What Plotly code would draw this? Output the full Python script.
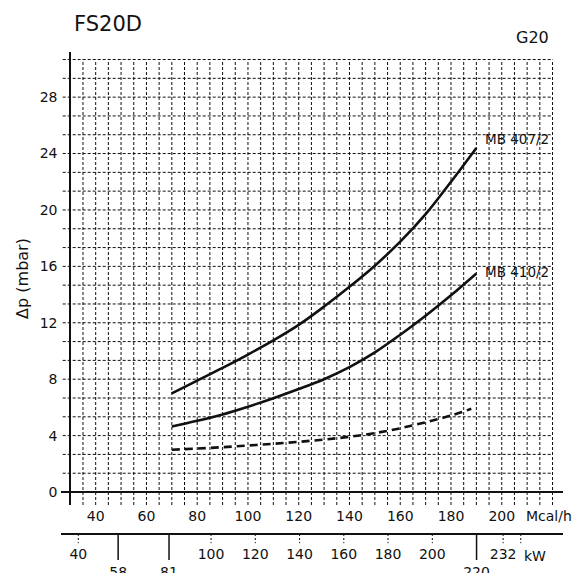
import plotly.graph_objects as go

# ---- data ----
mcal = [70, 80, 90, 100, 110, 120, 130, 140, 150, 160, 170, 180, 190]
mb407 = [7.0, 7.9, 8.8, 9.75, 10.75, 11.85, 13.15, 14.55, 16.05, 17.75, 19.7, 22.0, 24.4]
mb410 = [4.65, 5.05, 5.5, 6.05, 6.65, 7.3, 8.0, 8.85, 9.9, 11.15, 12.5, 13.95, 15.5]
dash_x = [70, 80, 90, 100, 110, 120, 130, 140, 150, 160, 170, 180, 188]
dash_y = [3.0, 3.08, 3.18, 3.3, 3.42, 3.56, 3.72, 3.92, 4.18, 4.52, 4.95, 5.42, 5.9]

y_ticks = [0, 4, 8, 12, 16, 20, 24, 28]
mcal_ticks = [40, 60, 80, 100, 120, 140, 160, 180, 200]
kw_upper = [40, 100, 120, 140, 160, 180, 200, 232]
kw_lower = [58, 81, 220]
kw_minor = [40, 100, 120, 140, 160, 180, 200, 232, 240]

series_labels = ["MB 407/2", "MB 410/2"]

FONT = "DejaVu Sans"
BLACK = "#111111"

fig = go.Figure()

fig.add_trace(go.Scatter(x=mcal, y=mb407, mode="lines", line=dict(color=BLACK, width=2.6, shape="spline"),
                         showlegend=False, hoverinfo="skip"))
fig.add_trace(go.Scatter(x=mcal, y=mb410, mode="lines", line=dict(color=BLACK, width=2.6, shape="spline"),
                         showlegend=False, hoverinfo="skip"))
fig.add_trace(go.Scatter(x=dash_x, y=dash_y, mode="lines",
                         line=dict(color=BLACK, width=2.6, shape="spline", dash="8px,5px"),
                         showlegend=False, hoverinfo="skip"))
# invisible trace to activate the kW axis
fig.add_trace(go.Scatter(x=[40, 240], y=[None, None], xaxis="x2", yaxis="y", mode="lines",
                         showlegend=False, hoverinfo="skip"))

shapes = []
grid = dict(color=BLACK, width=1, dash="3px,2px")
# horizontal grid every 4/3 mbar
for k in range(1, 24):
    yv = k * 4 / 3
    shapes.append(dict(type="line", xref="x", yref="y", x0=27.0, x1=220, y0=yv, y1=yv, line=grid, layer="below"))
# vertical grid every 5 Mcal/h
for xv in range(35, 221, 5):
    shapes.append(dict(type="line", xref="x", yref="y", x0=xv, x1=xv, y0=-0.92, y1=30.667, line=grid, layer="below"))
# kW ticks
for kv in kw_minor:
    shapes.append(dict(type="line", xref="x2", yref="paper", x0=kv, x1=kv, y0=0, y1=-0.019,
                       line=dict(color=BLACK, width=1, dash="2px,2px")))
for kv in kw_lower:
    shapes.append(dict(type="line", xref="x2", yref="paper", x0=kv, x1=kv, y0=0, y1=-0.054,
                       line=dict(color=BLACK, width=1.5)))

annotations = [
    dict(text=series_labels[0], x=192.6, y=25.05, xref="x", yref="y", xanchor="left", yanchor="middle",
         showarrow=False, font=dict(family=FONT, size=13.5, color=BLACK)),
    dict(text=series_labels[1], x=192.6, y=15.57, xref="x", yref="y", xanchor="left", yanchor="middle",
         showarrow=False, font=dict(family=FONT, size=13.5, color=BLACK)),
    dict(text="G20", x=0.940, y=1.031, xref="paper", yref="paper", xanchor="center", yanchor="middle",
         showarrow=False, font=dict(family=FONT, size=16, color=BLACK)),
    dict(text="Mcal/h", x=0.972, y=0.0373, xref="paper", yref="paper", xanchor="center", yanchor="middle",
         showarrow=False, font=dict(family=FONT, size=14, color=BLACK)),
    dict(text="kW", x=(535 - 61) / 502, y=-0.0456, xref="paper", yref="paper", xanchor="center", yanchor="middle",
         showarrow=False, font=dict(family=FONT, size=14, color=BLACK)),
]

kw_vals = kw_upper + kw_lower
kw_text = [str(v) for v in kw_upper] + ["<br>" + str(v) for v in kw_lower]

fig.update_layout(
    width=576, height=573,
    margin=dict(l=61, r=13, t=52, b=39, pad=0),
    paper_bgcolor="white", plot_bgcolor="white",
    font=dict(family=FONT, size=14, color=BLACK),
    title=dict(text="FS20D", x=74 / 576, xanchor="left", y=1 - 23.5 / 573, yanchor="middle",
               font=dict(family=FONT, size=21, color=BLACK)),
    showlegend=False,
    shapes=shapes,
    annotations=annotations,
    xaxis=dict(range=[26.336, 224.13], anchor="free", position=(534 - 492) / 482,
               showline=True, linecolor=BLACK, linewidth=2, showgrid=False, zeroline=False,
               tickmode="array", tickvals=mcal_ticks, ticks="outside", ticklen=11,
               tickcolor="rgba(0,0,0,0)", tickfont=dict(family=FONT, size=14, color=BLACK),
               automargin=False, fixedrange=True),
    xaxis2=dict(range=[32.18, 259.07], anchor="free", position=0, overlaying="x", side="bottom",
                showline=True, linecolor=BLACK, linewidth=2, showgrid=False, zeroline=False,
                tickmode="array", tickvals=kw_vals, ticktext=kw_text, ticks="outside", ticklen=7,
                tickcolor="rgba(0,0,0,0)", tickfont=dict(family=FONT, size=14, color=BLACK),
                automargin=False, fixedrange=True),
    yaxis=dict(range=[-0.92, 31.2], domain=[(534 - 505) / 482, 1], anchor="free", position=(70.3 - 61) / 502,
               showline=True, linecolor=BLACK, linewidth=2, showgrid=False, zeroline=False,
               tickmode="array", tickvals=y_ticks, ticks="outside", ticklen=9,
               tickcolor="rgba(0,0,0,0)", tickfont=dict(family=FONT, size=14, color=BLACK),
               title=dict(text="Δp (mbar)", standoff=6, font=dict(family=FONT, size=16, color=BLACK)),
               automargin=False, fixedrange=True),
)

fig.write_html("out.html", config={"displayModeBar": False},
               post_script="document.body.style.margin='0';document.body.style.padding='0';")
